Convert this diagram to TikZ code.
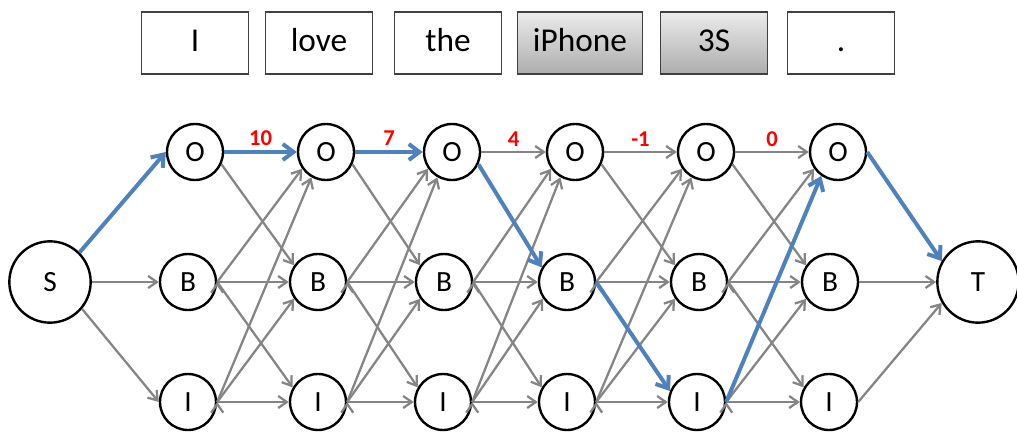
\documentclass[tikz,border=0pt]{standalone}
\usepackage{fontspec}
\setmainfont{Carlito}
\usepackage{xcolor}
\usetikzlibrary{arrows.meta}
\definecolor{pathblue}{HTML}{4F81BD}
\definecolor{edgegray}{HTML}{858585}
\tikzset{
  tagnode/.style={circle,draw,line width=1.8pt,minimum size=42pt,inner sep=0pt,font=\fontsize{22}{22}\selectfont},
  endnode/.style={tagnode,minimum size=61pt},
  wordbox/.style={draw=black!75,line width=1.2pt,minimum width=80pt,minimum height=46.5pt,inner sep=0pt,text height=16pt,text depth=3.3pt,font=\fontsize{25}{25}\selectfont},
  entitybox/.style={wordbox,top color=black!8,bottom color=black!32},
  gedge/.style={->,draw=edgegray,line width=1.7pt},
  bedge/.style={-{Straight Barb[length=8pt,width=12pt]},draw=pathblue,line width=3pt},
  score/.style={above,text=red,font=\fontsize{17}{17}\selectfont\bfseries}
}

\begin{document}
\begin{tikzpicture}[x=0.75pt,y=-0.75pt,>={Straight Barb[length=6.5pt,width=9pt]}]
  \useasboundingbox (0,0) rectangle (1017,432);
  % sentence
  \node[wordbox] (w1) at (195,43) {I};
  \node[wordbox] (w2) at (319,43) {love};
  \node[wordbox] (w3) at (448,43) {the};
  \node[entitybox,minimum width=94pt] (w4) at (580,43) {iPhone};
  \node[entitybox] (w5) at (714,43) {3S};
  \node[wordbox] (w6) at (841,43) {.};
  % lattice
  \node[endnode] (S) at (50,282) {S};
  \node[endnode] (T) at (978,282) {T};
  \node[tagnode] (O1) at (195,152) {O};
  \node[tagnode] (B1) at (188,282) {B};
  \node[tagnode] (I1) at (188,402) {I};
  \node[tagnode] (O2) at (326,152) {O};
  \node[tagnode] (B2) at (318,282) {B};
  \node[tagnode] (I2) at (318,402) {I};
  \node[tagnode] (O3) at (452,152) {O};
  \node[tagnode] (B3) at (444,282) {B};
  \node[tagnode] (I3) at (443,402) {I};
  \node[tagnode] (O4) at (575,152) {O};
  \node[tagnode] (B4) at (567,282) {B};
  \node[tagnode] (I4) at (567,402) {I};
  \node[tagnode] (O5) at (706,152) {O};
  \node[tagnode] (B5) at (699,282) {B};
  \node[tagnode] (I5) at (697,402) {I};
  \node[tagnode] (O6) at (838,152) {O};
  \node[tagnode] (B6) at (830,282) {B};
  \node[tagnode] (I6) at (829,402) {I};
  % start
  \draw[gedge] (S.east) -- (B1.west);
  \draw[gedge] (S.-40) -- (I1.west);
  % 1 -> 2
  \draw[gedge] (O1.-25) -- (B2.145);
  \draw[gedge] (B1.east) edge (O2.-145) edge (B2.west) edge (I2.150);
  \draw[gedge] (I1.east) edge (O2.-120) edge (B2.-145) edge (I2.west);
  % 2 -> 3
  \draw[gedge] (O2.-25) -- (B3.145);
  \draw[gedge] (B2.east) edge (O3.-145) edge (B3.west) edge (I3.150);
  \draw[gedge] (I2.east) edge (O3.-120) edge (B3.-145) edge (I3.west);
  % 3 -> 4
  \draw[gedge] (O3.east) -- node[score]{4} (O4.west);
  \draw[gedge] (B3.east) edge (O4.-145) edge (B4.west) edge (I4.150);
  \draw[gedge] (I3.east) edge (O4.-120) edge (B4.-145) edge (I4.west);
  % 4 -> 5
  \draw[gedge] (O4.east) -- node[score]{-1} (O5.west);
  \draw[gedge] (O4.-25) -- (B5.145);
  \draw[gedge] (B4.east) edge (O5.-145) edge (B5.west);
  \draw[gedge] (I4.east) edge (O5.-120) edge (B5.-145) edge (I5.west);
  % 5 -> 6
  \draw[gedge] (O5.east) -- node[score]{0} (O6.west);
  \draw[gedge] (O5.-25) -- (B6.145);
  \draw[gedge] (B5.east) edge (O6.-145) edge (B6.west) edge (I6.150);
  \draw[gedge] (I5.east) edge (B6.-145) edge (I6.west);
  % end
  \draw[gedge] (B6.east) -- (T.west);
  \draw[gedge] (I6.east) -- (T.-150);
  % best path
  \draw[bedge] (S.45) -- (O1.west);
  \draw[bedge] (O1.east) -- node[score]{10} (O2.west);
  \draw[bedge] (O2.east) -- node[score]{7} (O3.west);
  \draw[bedge] (O3.-25) -- (B4.150);
  \draw[bedge] (B4.east) -- (I5.158);
  \draw[bedge] (I5.east) -- (O6.-125);
  \draw[bedge] (O6.east) -- (T.150);
\end{tikzpicture}
\end{document}
